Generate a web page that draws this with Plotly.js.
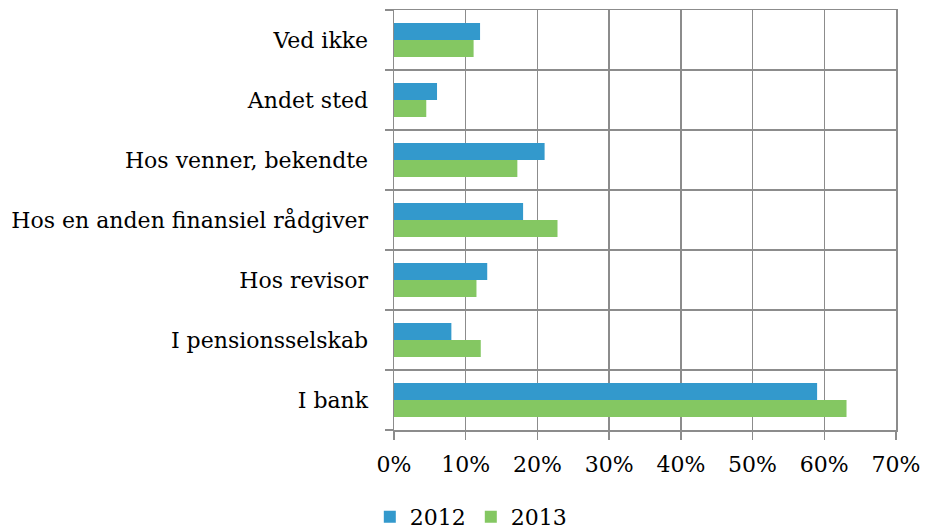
<!DOCTYPE html>
<html><head><meta charset="utf-8">
<script src="https://cdn.plot.ly/plotly-3.0.1.min.js"></script>
<style>body{margin:0;background:#fff}#c{width:925px;height:529px}</style>
</head><body><div id="c"></div>
<script>
const categories = ["I bank","I pensionsselskab","Hos revisor","Hos en anden finansiel rådgiver","Hos venner, bekendte","Andet sted","Ved ikke"];
const values2012 = [0.59,0.08,0.13,0.18,0.21,0.06,0.12];
const values2013 = [0.631,0.121,0.115,0.228,0.172,0.045,0.111];
const xTicks = [0,0.1,0.2,0.3,0.4,0.5,0.6,0.7];
const xTickLabels = ["0%","10%","20%","30%","40%","50%","60%","70%"];

const grid = "#8c8c8c";
const font = {family: "DejaVu Serif", size: 22, color: "#000"};
const yfont = {family: "DejaVu Serif", size: 22, color: "#000"};
const data = [
  {type:"bar", orientation:"h", name:"2013", y:categories, x:values2013, marker:{color:"#84C762"}},
  {type:"bar", orientation:"h", name:"2012", y:categories, x:values2012, marker:{color:"#3399CC"}}
];
const layout = {
  width:925, height:529,
  margin:{l:394, r:29, t:10, b:99, autoexpand:false},
  paper_bgcolor:"#fff", plot_bgcolor:"#fff",
  font: font,
  barmode:"group", bargap:0.43, bargroupgap:0,
  showlegend:true,
  legend:{orientation:"h", traceorder:"reversed", x:0.153, xanchor:"center", y:-0.207, yanchor:"middle", font:font},
  xaxis:{range:[0,0.7], tickvals:xTicks, ticktext:xTickLabels, showgrid:true, gridcolor:grid, gridwidth:1.5,
         showline:true, linecolor:grid, linewidth:1.5, mirror:true, ticks:"outside", ticklen:8, tickcolor:grid, tickwidth:1.5,
         zeroline:false, tickfont:font, ticklabelstandoff:6, fixedrange:true},
  yaxis:{type:"category", categoryorder:"array", categoryarray:categories, tickson:"boundaries", showgrid:true, gridcolor:grid, gridwidth:1.5,
         showline:true, linecolor:grid, linewidth:1.5, mirror:true, ticks:"outside", ticklen:8, tickcolor:grid, tickwidth:1.5,
         tickfont:yfont, ticklabelstandoff:20, fixedrange:true}
};
Plotly.newPlot("c", data, layout, {displayModeBar:false, staticPlot:true});
</script></body></html>
